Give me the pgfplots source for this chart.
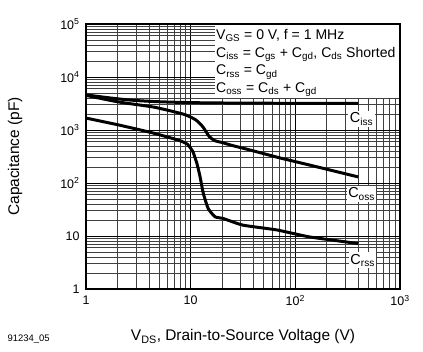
\documentclass[border=0pt]{standalone}
\usepackage{fontspec}
\setmainfont{Liberation Sans}
\usepackage{pgfplots}
\pgfplotsset{compat=1.18}
\begin{document}
\begin{tikzpicture}
\begin{axis}[
  at={(86bp,63bp)}, anchor=south west,
  width=314bp, height=265bp, scale only axis,
  xmode=log, ymode=log,
  xmin=1, xmax=1000, ymin=1, ymax=100000,
  /pgf/number format/assume math mode=true,
  axis line style={line width=1.2pt},
  grid=both,
  major grid style={black, line width=0.9pt},
  minor grid style={black!75, line width=0.8pt},
  major tick length=0pt, minor tick length=0pt,
  xtick={1,10,100,1000},
  xticklabels={1,10,10\textsuperscript{2},10\textsuperscript{3}},
  minor xtick={2,3,4,5,6,7,8,9,20,30,40,50,60,70,80,90,200,300,400,500,600,700,800,900},
  ytick={1,10,100,1000,10000,100000},
  yticklabels={1,10,10\textsuperscript{2},10\textsuperscript{3},10\textsuperscript{4},10\textsuperscript{5}},
  minor ytick={2,3,4,5,6,7,8,9,20,30,40,50,60,70,80,90,200,300,400,500,600,700,800,900,2000,3000,4000,5000,6000,7000,8000,9000,20000,30000,40000,50000,60000,70000,80000,90000},
  tick label style={font=\fontsize{12.5}{14}\selectfont},
  xticklabel style={yshift=-3bp},
  yticklabel style={xshift=-3bp},
  xlabel={V\textsubscript{DS}, Drain-to-Source Voltage (V)},
  ylabel={Capacitance (pF)},
  label style={font=\fontsize{15.5}{18}\selectfont},
  xlabel style={at={(axis description cs:0.5,-0.181)}, anchor=center},
  ylabel style={at={(axis description cs:-0.226,0.5)}, anchor=center},
]
% Ciss
\addplot[black, line width=3pt, smooth, tension=0.4] coordinates {
 (1,4600) (1.5,4150) (2.07,3850) (3,3600) (4.4,3450) (6,3370) (9,3300) (15,3250) (34,3210) (100,3190) (400,3180)};
% Coss
\addplot[black, line width=3pt, smooth, tension=0.4] coordinates {
 (1,4500) (2.07,3370) (4.36,2720) (7,2200) (9,1920) (11.2,1550) (13.1,1140) (15,760) (17,630) (20,580) (25,510) (36.8,420) (70,300) (137,218) (400,130)};
% Crss
\addplot[black, line width=3pt, smooth, tension=0.3] coordinates {
 (1,1680) (2.07,1240) (4.36,878) (7.7,640) (9.3,540) (10.5,390) (11.5,230) (12.3,131) (13.2,64) (14.7,33) (17.1,23) (20.3,21.5) (31.7,16) (66.7,13) (137,9.6) (400,7.2)};
\fill[white] (axis description cs:0.41,1) rectangle (axis description cs:1,0.72);
\node[anchor=north west, align=left, inner sep=0pt, font=\fontsize{14.1}{17.7}\selectfont] at (axis description cs:0.414,0.98) {%
V\textsubscript{GS} = 0 V, f = 1 MHz\\
C\textsubscript{iss} = C\textsubscript{gs} + C\textsubscript{gd}, C\textsubscript{ds} Shorted\\
C\textsubscript{rss} = C\textsubscript{gd}\\
C\textsubscript{oss} = C\textsubscript{ds} + C\textsubscript{gd}};
\node[fill=white, inner sep=1.5bp, font=\fontsize{14.5}{16}\selectfont] at (axis cs:430,1620) {C\textsubscript{iss}};
\node[fill=white, inner sep=1.5bp, font=\fontsize{14.5}{16}\selectfont] at (axis cs:430,62) {C\textsubscript{oss}};
\node[fill=white, inner sep=1.5bp, font=\fontsize{14.5}{16}\selectfont] at (axis cs:440,3.5) {C\textsubscript{rss}};
\draw[line width=1.2pt] (rel axis cs:0,0) rectangle (rel axis cs:1,1);
\end{axis}
\node[anchor=west, font=\fontsize{9.5}{11}\selectfont] at (4bp,13bp) {91234\_05};
\pgfresetboundingbox
\useasboundingbox (0,0) rectangle (423bp,352bp);
\end{tikzpicture}
\end{document}
